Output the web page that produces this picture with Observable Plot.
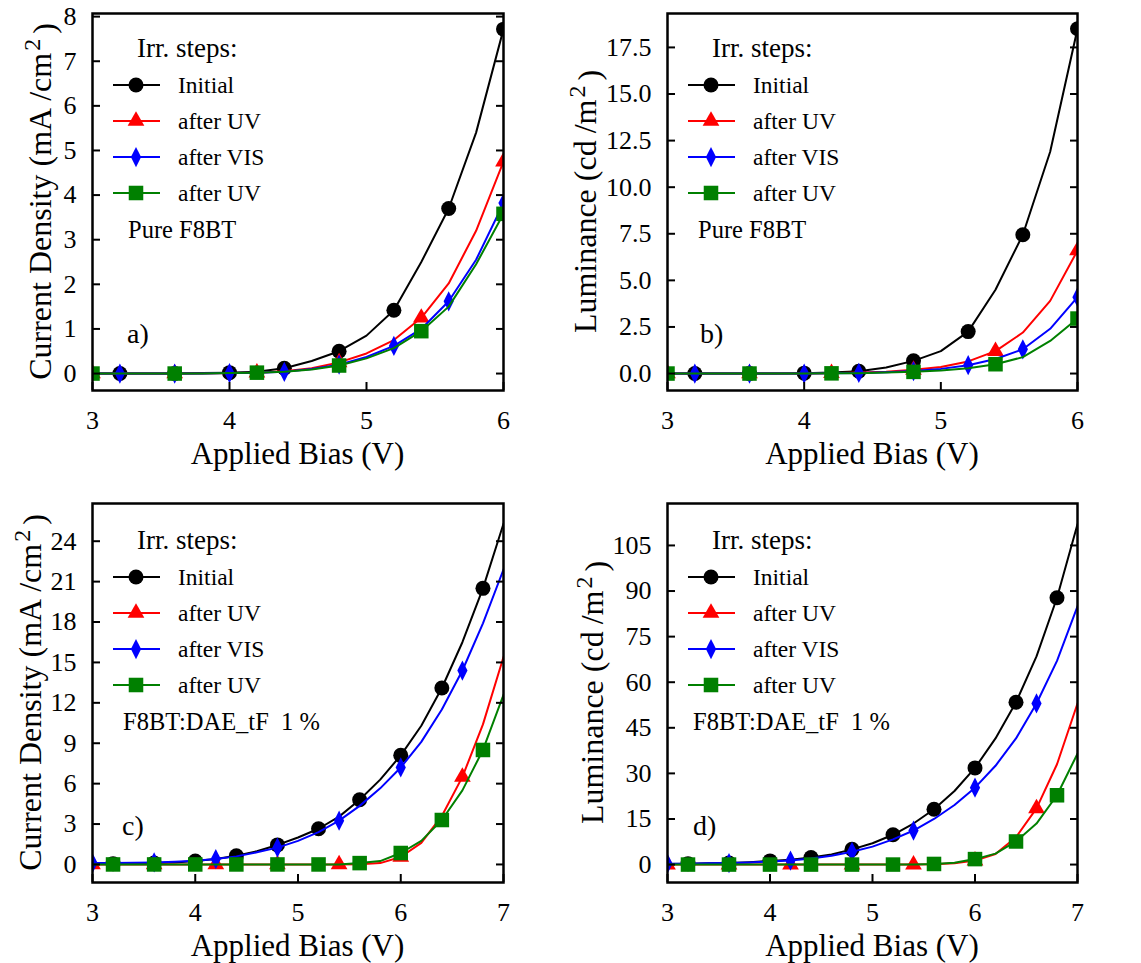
<!DOCTYPE html>
<html><head><meta charset="utf-8">
<script src="https://cdn.jsdelivr.net/npm/d3@7"></script>
<script src="https://cdn.jsdelivr.net/npm/@observablehq/plot@0.6"></script>
<style>
body{margin:0;background:#fff;}
#wrap{position:relative;width:1141px;height:963px;background:#fff;overflow:hidden;}
.panel{position:absolute;}
.panel svg{overflow:visible;font-family:"Liberation Serif","Times New Roman",serif !important;}
.panel svg text{font-family:"Liberation Serif","Times New Roman",serif !important;}
</style></head><body><div id="wrap"></div>
<script>
// ---- data ----
const voltsAB = [3.0,3.2,3.4,3.6,3.8,4.0,4.2,4.4,4.6,4.8,5.0,5.2,5.4,5.6,5.8,6.0];
const voltsCD = [3.0,3.2,3.4,3.6,3.8,4.0,4.2,4.4,4.6,4.8,5.0,5.2,5.4,5.6,5.8,6.0,6.2,6.4,6.6,6.8,7.0];
const seriesNames = ["Initial","after UV","after VIS","after UV"];
const seriesColors = ["#000000","#ff0000","#0000ff","#008000"];

// a) Current density, pure F8BT (mA/cm2)
const a_initial = [0,0,0,0,0.01,0.02,0.04,0.12,0.28,0.5,0.85,1.42,2.5,3.7,5.4,7.72];
const a_uv1     = [0,0,0,0,0,0.01,0.02,0.05,0.12,0.25,0.45,0.75,1.25,2.02,3.2,4.75];
const a_vis     = [0,0,0,0,0,0.01,0.02,0.04,0.1,0.2,0.37,0.62,1.0,1.62,2.55,3.82];
const a_uv2     = [0,0,0,0,0,0.01,0.02,0.04,0.09,0.18,0.34,0.57,0.95,1.5,2.45,3.58];
// b) Luminance, pure F8BT (cd/m2)
const b_initial = [0,0,0,0,0,0.02,0.05,0.12,0.32,0.68,1.2,2.25,4.5,7.45,11.9,18.5];
const b_uv1     = [0,0,0,0,0,0,0.02,0.05,0.1,0.2,0.35,0.65,1.2,2.2,3.9,6.6];
const b_vis     = [0,0,0,0,0,0,0.01,0.03,0.07,0.13,0.25,0.45,0.78,1.3,2.4,4.1];
const b_uv2     = [0,0,0,0,0,0,0.01,0.02,0.05,0.09,0.16,0.28,0.5,0.88,1.75,2.95];
// c) Current density, F8BT:DAE_tF 1 %
const c_initial = [0.05,0.06,0.08,0.1,0.15,0.25,0.4,0.65,0.98,1.45,2.0,2.65,3.55,4.8,6.3,8.1,10.3,13.1,16.5,20.5,25.3];
const c_uv1     = [0,0,0,0,0,0,0,0,0,0,0,0,0,0.02,0.1,0.55,1.6,3.6,6.5,10.4,15.4];
const c_vis     = [0.1,0.1,0.12,0.15,0.2,0.28,0.4,0.6,0.9,1.25,1.75,2.4,3.25,4.35,5.65,7.2,9.1,11.5,14.4,17.9,21.9];
const c_uv2     = [0,0,0,0,0,0,0,0,0,0,0,0,0,0.1,0.25,0.85,1.75,3.3,5.5,8.5,12.6];
// d) Luminance, F8BT:DAE_tF 1 %
const d_initial = [0.2,0.3,0.4,0.5,0.8,1.2,1.6,2.3,3.3,5.0,7.0,9.8,13.5,18.2,24.2,31.8,41.5,53.4,68.5,87.8,112];
const d_uv1     = [0,0,0,0,0,0,0,0,0,0,0,0,0,0.1,0.4,1.3,3.5,9.0,18.5,33,53];
const d_vis     = [0.3,0.3,0.4,0.5,0.7,1.0,1.3,2.0,2.9,4.2,5.9,8.3,11.2,15.0,19.6,25.3,32.5,41.5,53,67,85];
const d_uv2     = [0,0,0,0,0,0,0,0,0,0,0,0,0,0.2,0.6,1.8,3.6,7.6,13.5,22.8,36.5];

// marker positions (V)
const markersAB = [
  [3.2,3.6,4.0,4.4,4.8,5.2,5.6,6.0],
  [3.0,3.6,4.2,4.8,5.4,6.0],
  [3.2,3.6,4.0,4.4,4.8,5.2,5.6,6.0],
  [3.0,3.6,4.2,4.8,5.4,6.0]
];
const markersCD = [
  [3.2,3.6,4.0,4.4,4.8,5.2,5.6,6.0,6.4,6.8],
  [3.0,3.6,4.2,4.8,5.4,6.0,6.6],
  [3.0,3.6,4.2,4.8,5.4,6.0,6.6],
  [3.2,3.6,4.0,4.4,4.8,5.2,5.6,6.0,6.4,6.8]
];

const xTicksAB = [3,4,5,6];
const xTicksCD = [3,4,5,6,7];
const yTicksA = [0,1,2,3,4,5,6,7,8];
const yTicksB = [0,2.5,5,7.5,10,12.5,15,17.5];
const yTicksC = [0,3,6,9,12,15,18,21,24];
const yTicksD = [0,15,30,45,60,75,90,105];

// ---- symbols ----
const thinDiamond = {draw(ctx, size){const r=Math.sqrt(size/Math.PI);const h=r*1.35,w=r*0.68;ctx.moveTo(0,-h);ctx.lineTo(w,0);ctx.lineTo(0,h);ctx.lineTo(-w,0);ctx.closePath();}};
const symbols = [d3.symbolCircle, d3.symbolTriangle, thinDiamond, d3.symbolSquare];
const markerR = [7.5, 6.2, 7.5, 8.2];
const FONT = '"Liberation Serif", "Times New Roman", serif';

function panel(cfg){
  const marks = [];
  cfg.series.forEach((vals,i)=>{
    const data = vals.map((val,j)=>({v: cfg.volts[j], val}));
    marks.push(Plot.line(data,{x:"v",y:"val",stroke:seriesColors[i],strokeWidth:2,clip:true}));
    const m = data.filter(d=>cfg.markers[i].some(mv=>Math.abs(mv-d.v)<1e-6));
    marks.push(Plot.dot(m,{x:"v",y:"val",symbol:symbols[i],r:markerR[i],fill:seriesColors[i],stroke:"none",clip:true}));
  });
  marks.push(Plot.axisY({anchor:"left",ticks:cfg.yTicks,tickFormat:cfg.yFormat,tickSize:-8,tickPadding:24,strokeWidth:2,label:null,fontFamily:FONT,fontSize:26}));
  marks.push(Plot.axisY({anchor:"right",ticks:cfg.yTicks,tickFormat:()=>"",tickSize:-8,strokeWidth:2,label:null}));
  marks.push(Plot.axisX({anchor:"bottom",ticks:cfg.xTicks,tickFormat:d3.format("d"),tickSize:-8,tickPadding:28,strokeWidth:2,label:null,fontFamily:FONT,fontSize:26}));
  marks.push(Plot.frame({stroke:"black",strokeWidth:2.5}));
  const svg = Plot.plot({
    width:cfg.width,height:cfg.height,
    marginLeft:cfg.ml,marginRight:cfg.mr,marginTop:cfg.mt,marginBottom:cfg.mb,
    x:{domain:cfg.xDomain},
    y:{domain:cfg.yDomain},
    style:{fontFamily:FONT,fontSize:"26px",color:"black",background:"transparent"},
    marks
  });
  const xs = svg.scale("x"), ys = svg.scale("y");
  const fl = xs.range[0], fr = xs.range[1], fb = ys.range[0], ft = ys.range[1];
  const sel = d3.select(svg);
  const g = sel.append("g").attr("font-family",FONT).attr("fill","black").attr("text-anchor","start");
  // legend
  const lt = ft + cfg.legendTop;
  g.append("text").attr("x",fl+45).attr("y",lt).attr("dy","0.35em").attr("font-size",27).text("Irr. steps:");
  seriesNames.forEach((name,i)=>{
    const y = lt + 37 + i*36;
    g.append("line").attr("x1",fl+21).attr("x2",fl+68).attr("y1",y).attr("y2",y).attr("stroke",seriesColors[i]).attr("stroke-width",2);
    g.append("path").attr("transform",`translate(${fl+44},${y})`).attr("d",d3.symbol(symbols[i],Math.PI*markerR[i]*markerR[i])()).attr("fill",seriesColors[i]);
    g.append("text").attr("x",fl+86).attr("y",y).attr("dy","0.35em").attr("font-size",23.5).text(name);
  });
  g.append("text").attr("x",fl+cfg.sampleDx).attr("y",lt+181).attr("dy","0.35em").attr("font-size",24.5).text(cfg.sample);
  g.append("text").attr("x",fl+cfg.letterDx).attr("y",fb-57).attr("dy","0.35em").attr("font-size",28).text(cfg.letter);
  // x title
  g.append("text").attr("x",(fl+fr)/2).attr("y",fb+63).attr("dy","0.35em").attr("text-anchor","middle").attr("font-size",31).text("Applied Bias (V)");
  // y title
  const yt = g.append("text").attr("transform",`translate(${fl+cfg.yTitleDx},${(ft+fb)/2}) rotate(-90)`).attr("text-anchor","middle").attr("dy","0.35em").attr("font-size",32);
  yt.append("tspan").text(cfg.yTitle + " (" + cfg.unitA);
  yt.append("tspan").attr("dx",7).text("/" + cfg.unitB);
  yt.append("tspan").attr("dx",2).attr("dy","-0.45em").attr("font-size",24).text("2");
  yt.append("tspan").attr("dx",5).attr("dy","0.45em").text(")");
  const div = document.createElement("div");
  div.className = "panel";
  div.style.left = cfg.left+"px"; div.style.top = cfg.top+"px";
  div.appendChild(svg);
  document.getElementById("wrap").appendChild(div);
}

panel({left:0,top:0,width:570,height:480,ml:92,mr:67,mt:13,mb:90,
  volts:voltsAB,series:[a_initial,a_uv1,a_vis,a_uv2],markers:markersAB,
  xDomain:[3,6],yDomain:[-0.38,8.07],xTicks:xTicksAB,yTicks:yTicksA,yFormat:d3.format("d"),
  legendTop:35,sample:"Pure F8BT",sampleDx:36,letter:"a)",letterDx:35,
  yTitle:"Current Density",unitA:"mA",unitB:"cm",yTitleDx:-52});
panel({left:570,top:0,width:571,height:480,ml:97,mr:64,mt:13,mb:90,
  volts:voltsAB,series:[b_initial,b_uv1,b_vis,b_uv2],markers:markersAB,
  xDomain:[3,6],yDomain:[-0.91,19.32],xTicks:xTicksAB,yTicks:yTicksB,yFormat:d3.format(".1f"),
  legendTop:35,sample:"Pure F8BT",sampleDx:31,letter:"b)",letterDx:33,
  yTitle:"Luminance",unitA:"cd",unitB:"m",yTitleDx:-82});
panel({left:0,top:480,width:570,height:483,ml:92,mr:67,mt:23,mb:81,
  volts:voltsCD,series:[c_initial,c_uv1,c_vis,c_uv2],markers:markersCD,
  xDomain:[3,7],yDomain:[-1.34,26.8],xTicks:xTicksCD,yTicks:yTicksC,yFormat:d3.format("d"),
  legendTop:37,sample:"F8BT:DAE_tF  1 %",sampleDx:31,letter:"c)",letterDx:30,
  yTitle:"Current Density",unitA:"mA",unitB:"cm",yTitleDx:-62});
panel({left:570,top:480,width:571,height:483,ml:97,mr:64,mt:23,mb:81,
  volts:voltsCD,series:[d_initial,d_uv1,d_vis,d_uv2],markers:markersCD,
  xDomain:[3,7],yDomain:[-5.9,118.8],xTicks:xTicksCD,yTicks:yTicksD,yFormat:d3.format("d"),
  legendTop:37,sample:"F8BT:DAE_tF  1 %",sampleDx:26,letter:"d)",letterDx:26,
  yTitle:"Luminance",unitA:"cd",unitB:"m",yTitleDx:-75});
</script></body></html>
